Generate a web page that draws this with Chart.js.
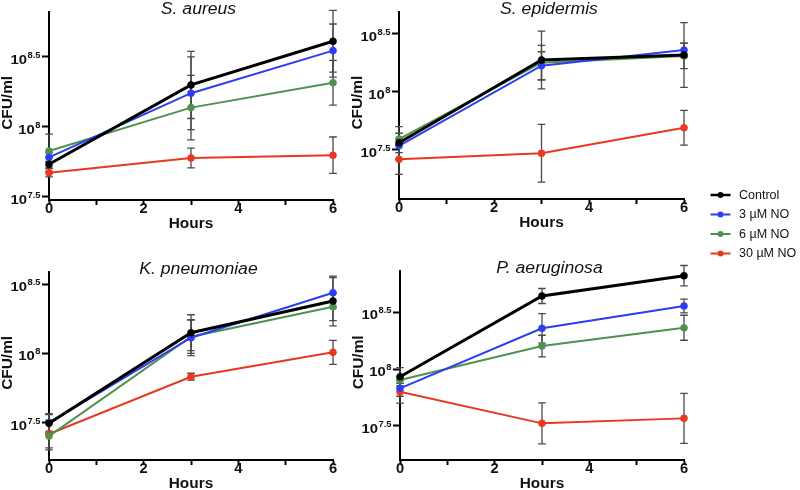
<!DOCTYPE html>
<html>
<head>
<meta charset="utf-8">
<script src="https://cdn.jsdelivr.net/npm/chart.js@4.4.1/dist/chart.umd.min.js"></script>
<style>
  html, body { margin: 0; padding: 0; background: #ffffff; }
  #wrap { position: relative; width: 800px; height: 490px; overflow: hidden; }
  #wrap canvas { position: absolute; left: 0; top: 0; }
</style>
</head>
<body>
<div id="wrap">
  <canvas id="c0" width="800" height="490"></canvas>
  <canvas id="c1" width="800" height="490"></canvas>
  <canvas id="c2" width="800" height="490"></canvas>
  <canvas id="c3" width="800" height="490"></canvas>
</div>
<script>
// ---------------- DATA ----------------
const hours = [0, 3, 6];
const seriesNames = ['Control', '3 \u00B5M NO', '6 \u00B5M NO', '30 \u00B5M NO'];
const panelTitles = ['S. aureus', 'S. epidermis', 'K. pneumoniae', 'P. aeruginosa'];
const xTickValues = [0, 1, 2, 3, 4, 5, 6];
const xTickLabels = ['0', '', '2', '', '4', '', '6'];
const yTickExponents = [7.5, 8, 8.5];   // labels 10^7.5, 10^8, 10^8.5
const yAxisTitle = 'CFU/ml';
const xAxisTitle = 'Hours';

// mean log10(CFU/ml) at 0, 3, 6 h
const aureusControl = [7.731, 8.298, 8.610];
const aureusNO3     = [7.781, 8.239, 8.543];
const aureusNO6     = [7.826, 8.136, 8.314];
const aureusNO30    = [7.671, 7.776, 7.796];

const epidermisControl = [7.559, 8.274, 8.317];
const epidermisNO3     = [7.533, 8.225, 8.360];
const epidermisNO6     = [7.591, 8.251, 8.309];
const epidermisNO30    = [7.416, 7.468, 7.689];

const pneumoniaeControl = [7.494, 8.149, 8.378];
const pneumoniaeNO3     = [7.498, 8.113, 8.438];
const pneumoniaeNO6     = [7.402, 8.120, 8.337];
const pneumoniaeNO30    = [7.417, 7.831, 8.007];

const aeruginosaControl = [7.932, 8.644, 8.823];
const aeruginosaNO3     = [7.830, 8.359, 8.556];
const aeruginosaNO6     = [7.903, 8.203, 8.364];
const aeruginosaNO30    = [7.800, 7.521, 7.565];

// error bars (+/- in log10 units)
const aureusControlErr = [0.05, 0.24, 0.22];
const aureusNO3Err     = [0.03, 0.26, 0.19];
const aureusNO6Err     = [0.12, 0.23, 0.16];
const aureusNO30Err    = [0.03, 0.07, 0.13];

const epidermisControlErr = [0.14, 0.25, 0.28];
const epidermisNO3Err     = [0.06, 0.12, 0.06];
const epidermisNO6Err     = [0.05, 0.15, 0.11];
const epidermisNO30Err    = [0.13, 0.25, 0.15];

const pneumoniaeControlErr = [0.07, 0.13, 0.18];
const pneumoniaeNO3Err     = [0.06, 0.13, 0.11];
const pneumoniaeNO6Err     = [0.10, 0.12, 0.10];
const pneumoniaeNO30Err    = [0.10, 0.025, 0.087];

const aeruginosaControlErr = [0.08, 0.066, 0.09];
const aeruginosaNO3Err     = [0.07, 0.13, 0.06];
const aeruginosaNO6Err     = [0.03, 0.095, 0.11];
const aeruginosaNO30Err    = [0.10, 0.18, 0.22];

// ---------------- STYLE / LAYOUT ----------------
const COLORS = ['#000000', '#2b3ef2', '#4f924f', '#e8381f'];
const LINE_W = [3, 2, 2, 2];
const ERR_COLOR = '#4a4a4a';
const FONT = '"Liberation Sans", Arial, Helvetica, sans-serif';
const STRETCH = 1.1;
const Y_AXIS_W = 49;
const X_AXIS_H = 20;
const W = 800, H = 490;

const panels = [
  { left: 49,  right: 333, top: 11.7,  bottom: 200, yMin: 7.476, yMax: 8.821,
    means: [aureusControl, aureusNO3, aureusNO6, aureusNO30],
    errs:  [aureusControlErr, aureusNO3Err, aureusNO6Err, aureusNO30Err] },
  { left: 399, right: 684, top: 12.3,  bottom: 199, yMin: 7.073, yMax: 8.686,
    means: [epidermisControl, epidermisNO3, epidermisNO6, epidermisNO30],
    errs:  [epidermisControlErr, epidermisNO3Err, epidermisNO6Err, epidermisNO30Err], legend: true },
  { left: 49,  right: 333, top: 271.7, bottom: 460, yMin: 7.229, yMax: 8.590,
    means: [pneumoniaeControl, pneumoniaeNO3, pneumoniaeNO6, pneumoniaeNO30],
    errs:  [pneumoniaeControlErr, pneumoniaeNO3Err, pneumoniaeNO6Err, pneumoniaeNO30Err] },
  { left: 400, right: 684, top: 270.7, bottom: 460, yMin: 7.198, yMax: 8.867,
    means: [aeruginosaControl, aeruginosaNO3, aeruginosaNO6, aeruginosaNO30],
    errs:  [aeruginosaControlErr, aeruginosaNO3Err, aeruginosaNO6Err, aeruginosaNO30Err] }
];

function drawText(ctx, text, x, y, font, align, baseline, rot, sx) {
  ctx.save();
  ctx.translate(x, y);
  if (rot) ctx.rotate(rot);
  ctx.scale(sx === undefined ? STRETCH : sx, 1);
  ctx.font = font;
  ctx.textAlign = align;
  ctx.textBaseline = baseline;
  ctx.fillStyle = '#111';
  ctx.fillText(text, 0, 0);
  ctx.restore();
}

const errorBarPlugin = {
  id: 'errorBars',
  beforeDatasetsDraw(chart) {
    const { ctx, scales: { x, y } } = chart;
    const CAP = 3.8;
    ctx.save();
    ctx.strokeStyle = ERR_COLOR;
    ctx.lineWidth = 1.3;
    chart.data.datasets.forEach((ds) => {
      ds.data.forEach((p, j) => {
        const e = ds.err[j];
        const px = x.getPixelForValue(p.x);
        const yt = y.getPixelForValue(p.y + e);
        const yb = y.getPixelForValue(p.y - e);
        ctx.beginPath();
        ctx.moveTo(px, yt); ctx.lineTo(px, yb);
        ctx.moveTo(px - CAP, yt); ctx.lineTo(px + CAP, yt);
        ctx.moveTo(px - CAP, yb); ctx.lineTo(px + CAP, yb);
        ctx.stroke();
      });
    });
    ctx.restore();
  }
};

const decorPlugin = {
  id: 'decor',
  afterDraw(chart) {
    const { ctx, chartArea: a, scales: { x, y } } = chart;
    const opts = chart.options.plugins.decor;
    // title
    drawText(ctx, opts.title, (a.left + a.right) / 2 + 7.5, a.top - 2.5, 'italic 16px ' + FONT, 'center', 'middle');
    // y axis title
    drawText(ctx, yAxisTitle, a.left - 41, (a.top + a.bottom) / 2 - 3, 'bold 14px ' + FONT, 'center', 'middle', -Math.PI / 2);
    // x axis title
    drawText(ctx, xAxisTitle, (a.left + a.right) / 2, a.bottom + 24, 'bold 14px ' + FONT, 'center', 'middle');
    // x tick labels
    xTickValues.forEach((v, i) => {
      if (!xTickLabels[i]) return;
      drawText(ctx, xTickLabels[i], x.getPixelForValue(v), a.bottom + 9, 'bold 14px ' + FONT, 'center', 'middle', 0, 1.05);
    });
    // y tick labels 10^e
    yTickExponents.forEach((e) => {
      const py = y.getPixelForValue(e);
      const exp = Number.isInteger(e) ? String(e) : e.toFixed(1);
      const rightEdge = a.left - 8.5;
      ctx.save();
      ctx.font = 'bold 8.5px ' + FONT;
      const supW = ctx.measureText(exp).width * STRETCH;
      ctx.restore();
      drawText(ctx, exp, rightEdge - supW, py + 1, 'bold 8.5px ' + FONT, 'left', 'alphabetic');
      drawText(ctx, '10', rightEdge - supW - 0.5, py + 7, 'bold 13.5px ' + FONT, 'right', 'alphabetic');
    });
    // legend
    if (opts.legend) {
      const LX0 = 710.5, LX1 = 730.5, LTX = 739, LY0 = 195, LDY = 19.5;
      chart.data.datasets.forEach((ds, i) => {
        const ly = LY0 + i * LDY;
        ctx.save();
        ctx.strokeStyle = ds.borderColor;
        ctx.fillStyle = ds.borderColor;
        ctx.lineWidth = i === 0 ? 2.5 : 2;
        ctx.beginPath(); ctx.moveTo(LX0, ly); ctx.lineTo(LX1, ly); ctx.stroke();
        ctx.beginPath(); ctx.arc((LX0 + LX1) / 2, ly, 3, 0, Math.PI * 2); ctx.fill();
        ctx.restore();
        drawText(ctx, ds.label, LTX, ly + 0.5, '12.5px ' + FONT, 'left', 'middle', 0, 1);
      });
    }
  }
};

panels.forEach((p, idx) => {
  const datasets = p.means.map((m, i) => ({
    label: seriesNames[i],
    data: hours.map((h, j) => ({ x: h, y: m[j] })),
    err: p.errs[i],
    borderColor: COLORS[i],
    backgroundColor: COLORS[i],
    pointBackgroundColor: COLORS[i],
    pointBorderColor: COLORS[i],
    borderWidth: LINE_W[i],
    pointRadius: 3.5,
    pointBorderWidth: 0.6,
    tension: 0,
    fill: false,
    clip: false
  }));
  new Chart(document.getElementById('c' + idx), {
    type: 'line',
    data: { datasets },
    options: {
      responsive: false,
      animation: false,
      events: [],
      devicePixelRatio: 1,
      layout: { padding: { left: p.left - Y_AXIS_W, right: W - p.right, top: p.top, bottom: H - p.bottom - X_AXIS_H } },
      plugins: {
        legend: { display: false },
        tooltip: { enabled: false },
        title: { display: false },
        decor: { title: panelTitles[idx], legend: !!p.legend }
      },
      scales: {
        x: {
          type: 'linear', min: 0, max: 6,
          afterBuildTicks: (s) => { s.ticks = xTickValues.map((v) => ({ value: v })); },
          afterFit: (s) => { s.height = X_AXIS_H; },
          ticks: { display: false },
          grid: { drawOnChartArea: false, drawTicks: true, tickLength: 5, tickWidth: 2, tickColor: '#000' },
          border: { display: true, color: '#000', width: 2 }
        },
        y: {
          type: 'linear', min: p.yMin, max: p.yMax,
          afterBuildTicks: (s) => { s.ticks = yTickExponents.map((v) => ({ value: v })); },
          afterFit: (s) => { s.width = Y_AXIS_W; },
          ticks: { display: false },
          grid: { drawOnChartArea: false, drawTicks: true, tickLength: 7, tickWidth: 2, tickColor: '#000' },
          border: { display: true, color: '#000', width: 2 }
        }
      }
    },
    plugins: [errorBarPlugin, decorPlugin]
  });
});
</script>
</body>
</html>
